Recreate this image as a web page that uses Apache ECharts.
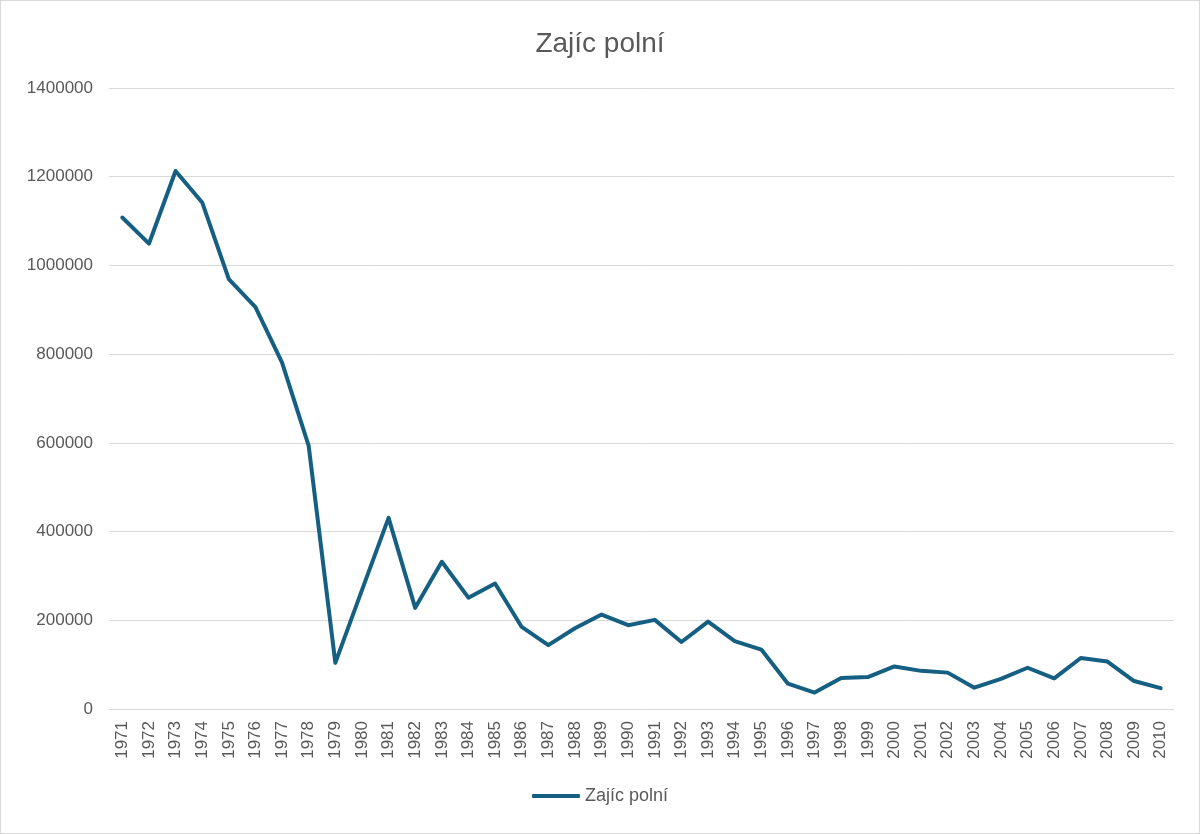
<!DOCTYPE html>
<html>
<head>
<meta charset="utf-8">
<script src="https://cdn.jsdelivr.net/npm/echarts@6/dist/echarts.min.js"></script>
<style>
html,body{margin:0;padding:0;background:#fff;}
#chart{width:1198px;height:832px;border:1px solid #d9d9d9;}
</style>
</head>
<body>
<div id="chart"></div>
<script>
// roky
var years = ['1971','1972','1973','1974','1975','1976','1977','1978','1979','1980',
	'1981','1982','1983','1984','1985','1986','1987','1988','1989','1990',
	'1991','1992','1993','1994','1995','1996','1997','1998','1999','2000',
	'2001','2002','2003','2004','2005','2006','2007','2008','2009','2010'];
// odhad hodnot z obrázku
var zajic = [1108000,1049000,1213000,1142000,969000,906000,781000,593000,104000,268000,
	431000,228000,332000,251000,283000,185000,144000,182000,213000,189000,
	201000,151000,197000,153000,134000,57000,37000,70000,72000,96000,
	86000,82000,48000,68000,93000,69000,115000,107000,63000,47000];
var seriesName = 'Zajíc polní';

var chart = echarts.init(document.getElementById('chart'));
var font = 'Liberation Sans, Arial, sans-serif';
var option = {
	animation: false,
	title: {
		text: seriesName,
		left: 'center',
		top: 24,
		textStyle: { fontFamily: font, fontSize: 28, fontWeight: 'normal', color: '#595959' }
	},
	legend: {
		bottom: 23,
		left: 'center',
		itemWidth: 48,
		itemHeight: 4,
		itemGap: 4,
		icon: 'roundRect',
		data: [seriesName],
		textStyle: { fontFamily: font, fontSize: 18, color: '#595959' }
	},
	grid: {
		left: 108,
		right: 25,
		top: 87,
		bottom: 124
	},
	xAxis: {
		type: 'category',
		data: years,
		boundaryGap: true,
		axisLine: { lineStyle: { color: '#d9d9d9' } },
		axisTick: { show: false },
		axisLabel: { rotate: 90, interval: 0, margin: 12, fontFamily: font, fontSize: 17, color: '#595959' }
	},
	yAxis: {
		type: 'value',
		min: 0,
		max: 1400000,
		interval: 200000,
		axisLine: { show: false },
		axisTick: { show: false },
		splitLine: { lineStyle: { color: '#d9d9d9', width: 1 } },
		axisLabel: {
			margin: 16, fontFamily: font, fontSize: 17, color: '#595959',
			formatter: function (v) { return String(v); }
		}
	},
	series: [
		{
			name: seriesName,
			type: 'line',
			data: zajic,
			symbol: 'none',
			lineStyle: { color: '#156082', width: 4, cap: 'round', join: 'round' },
			itemStyle: { color: '#156082' }
		}
	]
};
chart.setOption(option);
</script>
</body>
</html>
